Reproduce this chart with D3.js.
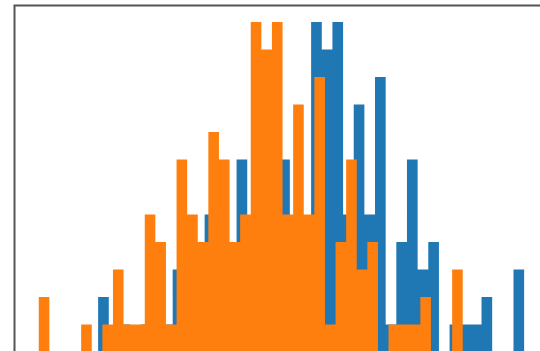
<!DOCTYPE html>
<html>
<head>
<meta charset="utf-8">
<script src="https://cdn.jsdelivr.net/npm/d3@7"></script>
<style>
  html, body { margin: 0; padding: 0; background: #ffffff; }
  svg { display: block; }
</style>
</head>
<body>
<svg id="chart" width="540" height="351"></svg>
<script>
// Two overlapping histograms, 40 bins each, blue drawn first, orange on top.
const blueBinStart = -1.80;
const blueBinWidth = 0.1256;
const blueCounts = [
  2, 0, 1, 0, 1, 2, 1, 3, 2, 3,
  5, 4, 3, 7, 4, 5, 4, 7, 3, 2,
  12, 11, 12, 5, 9, 5, 10, 1, 4, 7,
  3, 4, 0, 1, 1, 1, 2, 0, 0, 3
];

const orangeBinStart = -2.5;
const orangeBinWidth = 0.125;
const orangeCounts = [
  2, 0, 0, 0, 1, 0, 1, 3, 1, 1,
  5, 4, 1, 7, 5, 4, 8, 7, 4, 5,
  12, 11, 12, 5, 9, 5, 10, 1, 4, 7,
  3, 4, 0, 1, 1, 1, 2, 0, 0, 3
];

const seriesColors = ["#1f77b4", "#ff7f0e"];

function toBins(start, width, counts) {
  return counts.map((c, i) => ({ x0: start + i * width, x1: start + (i + 1) * width, count: c }));
}

const series = [
  toBins(blueBinStart, blueBinWidth, blueCounts),
  toBins(orangeBinStart, orangeBinWidth, orangeCounts)
];

// Axes box (extends past the right and bottom edges of the view)
const axLeft = 14.5, axRight = 548.4, axTop = 5.5, axBottom = 352;

const allBins = series.flat();
const xMin = d3.min(allBins, d => d.x0);
const xMax = d3.max(allBins, d => d.x1);
const xPad = (xMax - xMin) * 0.05;
const yMax = d3.max(allBins, d => d.count) * 1.05;

const x = d3.scaleLinear().domain([xMin - xPad, xMax + xPad]).range([axLeft, axRight]);
const y = d3.scaleLinear().domain([0, yMax]).range([axBottom, axTop]);

const svg = d3.select("#chart");
svg.append("rect").attr("width", 540).attr("height", 351).attr("fill", "#ffffff");

// Each series' bars go into one path so neighbouring bars join without seams
series.forEach((bins, si) => {
  const p = d3.path();
  bins.filter(b => b.count > 0).forEach(b => {
    p.rect(x(b.x0), y(b.count), x(b.x1) - x(b.x0), y(0) - y(b.count));
  });
  svg.append("path")
    .attr("d", p.toString())
    .attr("fill", seriesColors[si]);
});

// Axes frame
svg.append("rect")
  .attr("x", axLeft)
  .attr("y", axTop)
  .attr("width", axRight - axLeft)
  .attr("height", axBottom - axTop)
  .attr("fill", "none")
  .attr("stroke", "#555555")
  .attr("stroke-width", 2);
</script>
</body>
</html>
